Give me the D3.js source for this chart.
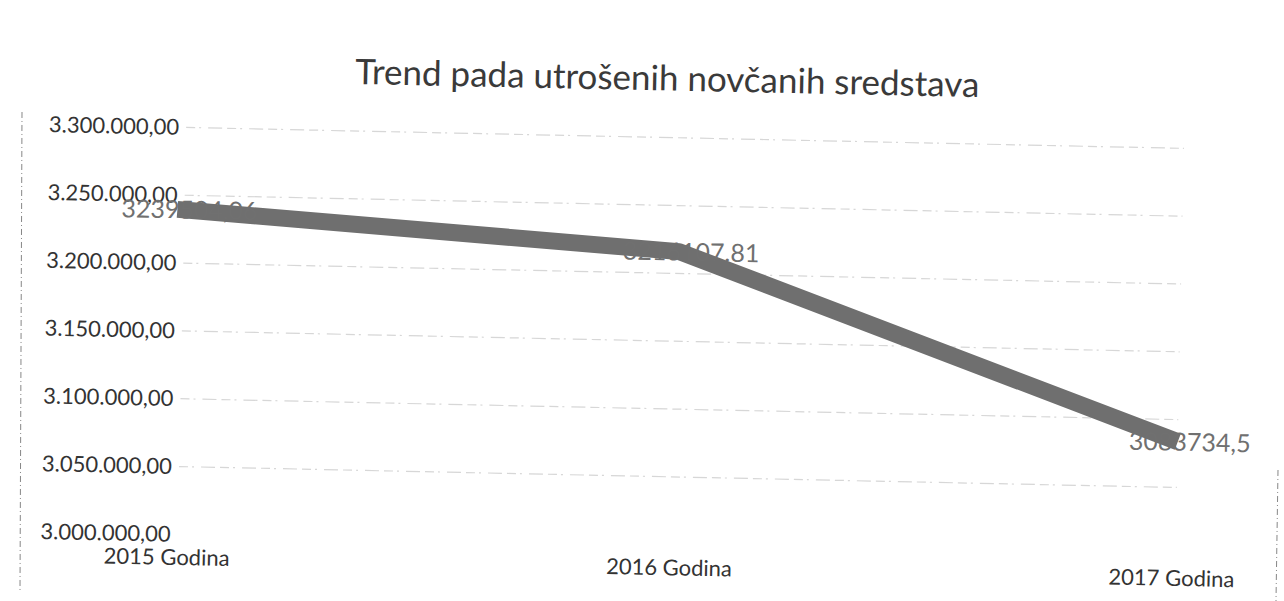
<!DOCTYPE html>
<html>
<head>
<meta charset="utf-8">
<script src="https://cdn.jsdelivr.net/npm/d3@7"></script>
<style>
  body { margin: 0; background: #fff; }
  svg { font-family: Lato, "Open Sans", sans-serif; }
</style>
</head>
<body>
<svg width="1284" height="601"></svg>
<script>
// data
const years = ['2015 Godina', '2016 Godina', '2017 Godina']
const amounts = [3239504.06, 3216107.81, 3083734.5]
const amountLabels = ['3239504,06', '3216107.81', '3083734,5']
const yTicks = [3000000, 3050000, 3100000, 3150000, 3200000, 3250000, 3300000]

const svg = d3.select('svg')
// the scan is tilted a little clockwise
const g = svg.append('g').attr('transform', 'rotate(1.2,640,330)')

const x = d3.scalePoint().domain(years).range([175, 1180])
const y = d3.scaleLinear().domain([3000000, 3300000]).range([544, 137])

const fmt = v => d3.format(',.2f')(v).replace(/,/g, '#').replace('.', ',').replace(/#/g, '.')

g.append('text')
    .attr('x', 662).attr('y', 90)
    .attr('text-anchor', 'middle')
    .attr('font-size', 35)
    .attr('fill', '#3a3a3a')
    .text('Trend pada utrošenih novčanih sredstava')

// faint dashed gridlines
g.selectAll('.grid').data(yTicks.slice(1)).enter().append('line')
    .attr('class', 'grid')
    .attr('x1', 182).attr('x2', 1180)
    .attr('y1', d => y(d)).attr('y2', d => y(d))
    .attr('stroke', '#b0b0b0')
    .attr('stroke-width', 1.2)
    .attr('stroke-dasharray', '9,4,2,7,14,5')
    .attr('opacity', 0.5)

const yAxis = g.append('g')
    .attr('transform', 'translate(177,0)')
    .call(d3.axisLeft(y).tickValues(yTicks).tickFormat(fmt).tickSize(0).tickPadding(2))
yAxis.select('.domain').remove()
yAxis.selectAll('text').attr('font-size', 22).attr('fill', '#333')
    .attr('font-family', 'Lato, "Open Sans", sans-serif')

const xAxis = g.append('g')
    .attr('transform', 'translate(-4,559)')
    .call(d3.axisBottom(x).tickSize(0).tickPadding(0))
xAxis.select('.domain').remove()
xAxis.selectAll('text').attr('font-size', 22).attr('fill', '#333')
    .attr('font-family', 'Lato, "Open Sans", sans-serif')

const line = d3.line().x((d, i) => x(years[i])).y(d => y(d))

g.append('path')
    .datum(amounts)
    .attr('d', line)
    .attr('fill', 'none')
    .attr('stroke', '#6f6f6f')
    .attr('stroke-width', 17)
    .attr('stroke-linejoin', 'round')

g.selectAll('.lbl').data(amounts).enter().append('text')
    .attr('class', 'lbl')
    .attr('x', (d, i) => x(years[i]) + 12)
    .attr('y', d => y(d) + 9)
    .attr('text-anchor', 'middle')
    .attr('font-size', 25)
    .attr('fill', '#707070')
    .text((d, i) => amountLabels[i])

// dashed edge left by the scan
svg.append('line')
    .attr('x1', 22).attr('x2', 20).attr('y1', 112).attr('y2', 590)
    .attr('stroke', '#555').attr('stroke-width', 1)
    .attr('stroke-dasharray', '6,3,1,3').attr('opacity', 0.7)
svg.append('line')
    .attr('x1', 1278).attr('x2', 1276).attr('y1', 470).attr('y2', 601)
    .attr('stroke', '#555').attr('stroke-width', 1)
    .attr('stroke-dasharray', '6,3,1,3').attr('opacity', 0.7)
</script>
</body>
</html>
